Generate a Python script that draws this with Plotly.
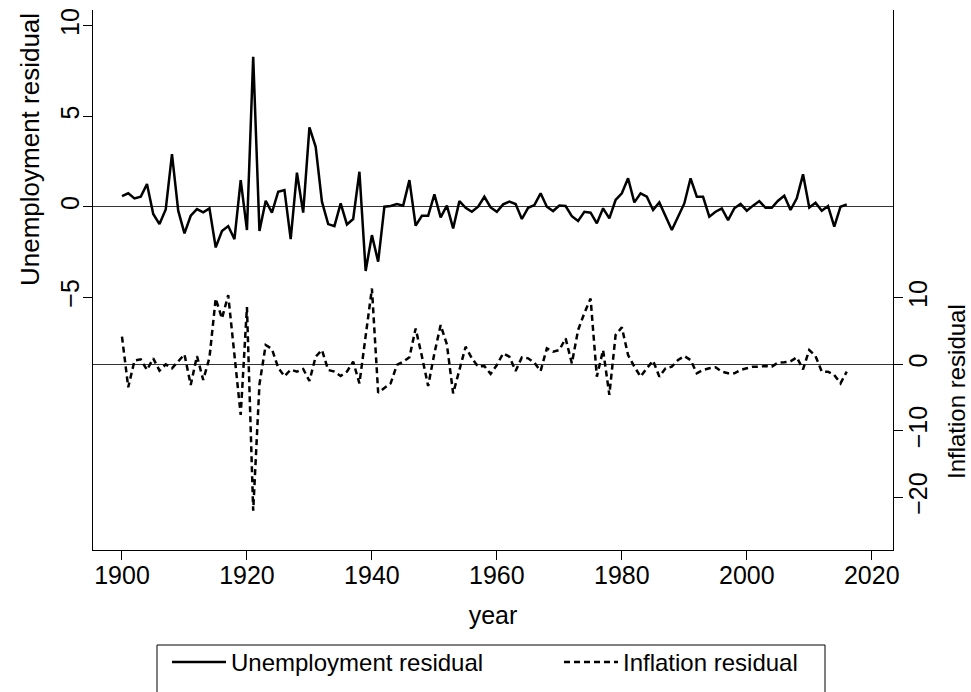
import plotly.graph_objects as go

years = list(range(1900, 2017))

unemployment_residual = [
    0.59, 0.74, 0.46, 0.55, 1.25, -0.40, -0.96, -0.15, 2.90, -0.22,   # 1900s
    -1.47, -0.50, -0.13, -0.31, -0.09, -2.25, -1.34, -1.07, -1.79, 1.47,  # 1910s
    -1.29, 8.29, -1.34, 0.33, -0.33, 0.83, 0.92, -1.79, 1.88, -0.33,  # 1920s
    4.38, 3.31, 0.28, -0.96, -1.07, 0.18, -0.98, -0.68, 1.93, -3.55,  # 1930s
    -1.57, -3.04, 0.00, 0.04, 0.15, 0.06, 1.47, -1.05, -0.50, -0.50,  # 1940s
    0.68, -0.59, 0.06, -1.20, 0.31, -0.06, -0.28, 0.00, 0.55, -0.04,  # 1950s
    -0.28, 0.13, 0.28, 0.15, -0.68, -0.06, 0.09, 0.74, 0.00, -0.24,   # 1960s
    0.06, 0.04, -0.52, -0.79, -0.28, -0.33, -0.92, -0.09, -0.64, 0.37,  # 1970s
    0.74, 1.57, 0.24, 0.74, 0.55, -0.18, 0.24, -0.50, -1.29, -0.55,   # 1980s
    0.18, 1.57, 0.55, 0.55, -0.55, -0.28, -0.09, -0.74, -0.09, 0.15,  # 1990s
    -0.22, 0.06, 0.31, -0.06, -0.06, 0.33, 0.61, -0.18, 0.46, 1.79,   # 2000s
    -0.04, 0.22, -0.22, 0.04, -1.10, 0.00, 0.13,                      # 2010-2016
]

inflation_residual = [
    4.16, -3.46, 0.55, 0.75, -0.85, 0.90, -0.95, 0.00, -0.60, 0.40,   # 1900s
    1.50, -3.10, 1.25, -2.36, 1.00, 9.90, 6.90, 10.40, 1.15, -7.60,   # 1910s
    8.60, -22.00, -3.00, 2.90, 2.30, -0.50, -1.80, -0.80, -1.10, -0.70,  # 1920s
    -2.50, 1.15, 2.15, -0.85, -1.10, -1.75, -1.10, 0.40, -2.86, 4.00,  # 1930s
    11.40, -4.26, -3.60, -2.86, -0.10, 0.40, 1.05, 5.40, 1.20, -3.26,  # 1940s
    1.65, 5.90, 3.00, -4.36, -0.85, 2.65, 0.90, -0.35, -0.25, -1.45,  # 1950s
    -0.10, 1.65, 1.15, -1.00, 1.05, 0.90, 0.25, -1.00, 2.40, 1.90,    # 1960s
    2.15, 3.90, 0.15, 5.16, 7.70, 9.90, -1.85, 2.15, -4.60, 4.40,     # 1970s
    5.56, 1.40, -0.35, -1.85, -0.60, 0.55, -1.85, -0.60, -0.35, 0.65,  # 1980s
    1.25, 0.65, -1.35, -0.85, -0.60, -0.45, -1.10, -1.35, -1.35, -0.85,  # 1990s
    -0.60, -0.35, -0.35, -0.25, -0.35, 0.25, 0.30, 0.45, 1.05, -0.75,  # 2000s
    2.15, 1.25, -1.10, -1.10, -1.60, -2.86, -1.10,                    # 2010-2016
]

x_ticks = [1900, 1920, 1940, 1960, 1980, 2000, 2020]
left_ticks = [-5, 0, 5, 10]
right_ticks = [-20, -10, 0, 10]

FONT = "Liberation Sans, Arial, sans-serif"

fig = go.Figure()
fig.add_trace(go.Scatter(
    x=years, y=unemployment_residual, mode="lines", name="Unemployment residual",
    line=dict(color="black", width=2.5), yaxis="y",
))
fig.add_trace(go.Scatter(
    x=years, y=inflation_residual, mode="lines", name="Inflation residual",
    line=dict(color="black", width=2.5, dash="6px,4px"), yaxis="y2",
))

fig.update_layout(
    width=971, height=692,
    margin=dict(l=93, r=78, t=10, b=142, autoexpand=False),
    paper_bgcolor="white", plot_bgcolor="white",
    font=dict(family=FONT, color="black", size=25),
    showlegend=True,
    legend=dict(
        orientation="h", x=0.0925, xanchor="left", y=-0.1667, yanchor="top",
        borderwidth=0, bgcolor="rgba(0,0,0,0)",
        font=dict(size=24), itemwidth=54, entrywidth=323, entrywidthmode="pixels",
    ),
    xaxis=dict(
        range=[1895.36, 2023.4], tickvals=x_ticks, ticks="outside", ticklen=9,
        tickcolor="black", showline=True, linecolor="black", linewidth=1,
        showgrid=False, zeroline=False, tickfont=dict(size=25), automargin=False,
        ticklabelstandoff=-6,
        title=dict(text="year", font=dict(size=25), standoff=18),
    ),
    yaxis=dict(
        range=[-18.97, 10.87], tickvals=left_ticks, ticks="outside", ticklen=9,
        tickcolor="black", showline=True, linecolor="black", linewidth=1,
        showgrid=False, zeroline=True, zerolinecolor="#333333", zerolinewidth=1,
        tickangle=-90, tickfont=dict(size=25), automargin=False,
        ticklabelstandoff=-6,
    ),
    yaxis2=dict(
        range=[-27.92, 53.28], tickvals=right_ticks, ticks="outside", ticklen=9,
        tickcolor="black", showline=True, linecolor="black", linewidth=1,
        showgrid=False, zeroline=True, zerolinecolor="#333333", zerolinewidth=1,
        tickangle=-90, tickfont=dict(size=25), automargin=False,
        ticklabelstandoff=-6,
        overlaying="y", side="right", anchor="x",
    ),
    shapes=[
        dict(type="rect", xref="paper", yref="paper",
             x0=(157 - 93) / 800, x1=(825 - 93) / 800,
             y0=(550 - 700) / 540, y1=(550 - 645) / 540,
             line=dict(color="black", width=1), fillcolor="rgba(0,0,0,0)",
             layer="below"),
    ],
    annotations=[
        dict(text="Unemployment residual", xref="paper", yref="paper",
             x=-0.07875, y=0.7407, xanchor="center", yanchor="middle",
             textangle=-90, showarrow=False, font=dict(size=26)),
        dict(text="Inflation residual", xref="paper", yref="paper",
             x=1.08, y=0.2926, xanchor="center", yanchor="middle",
             textangle=-90, showarrow=False, font=dict(size=24)),
    ],
)

fig.write_html("out.html", config={"displayModeBar": False},
               post_script="document.body.style.margin='0';")
